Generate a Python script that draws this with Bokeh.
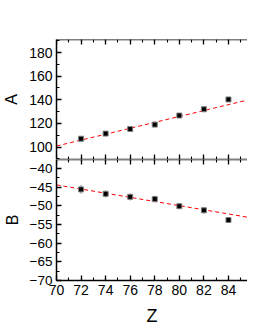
from bokeh.plotting import figure
from bokeh.models import LinearAxis, SingleIntervalTicker, Range1d, CustomLabelingPolicy
from bokeh.layouts import column
from bokeh.embed import file_html
from bokeh.resources import INLINE

# data
z = [72, 74, 76, 78, 80, 82, 84]
A_vals = [107.1, 111.4, 115.3, 119.0, 126.7, 132.0, 140.3]
A_err = [2.0, 1.8, 1.8, 1.6, 1.6, 1.6, 1.6]
B_vals = [-45.6, -46.8, -47.6, -48.2, -50.1, -51.2, -53.8]
B_err = [1.2, 1.0, 1.0, 0.9, 0.8, 0.9, 0.6]
fit_z = [70, 86]
fit_A = [100.9, 140.9]
fit_B = [-44.4, -53.3]

A_range = (89.5, 191)
B_range = (-70, -37.6)

FONT = "Liberation Sans"
xr = Range1d(70, 85.55)

NO_LABELS = """
for (const i of indices) {
    indices.unset(i)
}
return indices
"""


def style_axis(ax, major_step, labels=True, size="12px"):
    ax.ticker = SingleIntervalTicker(interval=major_step, num_minor_ticks=2)
    ax.axis_line_width = 1.5
    ax.axis_line_color = "black"
    ax.major_tick_in = 5
    ax.major_tick_out = 0
    ax.minor_tick_in = 3
    ax.minor_tick_out = 0
    ax.major_tick_line_width = 1.3
    ax.minor_tick_line_width = 1.1
    ax.major_tick_line_color = "black"
    ax.minor_tick_line_color = "black"
    if labels:
        ax.major_label_text_font = FONT
        ax.major_label_text_font_size = size
        ax.major_label_text_color = "black"
        ax.major_label_standoff = 4
    else:
        ax.major_label_policy = CustomLabelingPolicy(code=NO_LABELS)
        ax.major_label_text_font_size = "1px"
        ax.major_label_standoff = 0


def make_panel(vals, err, fit, yr, ystep, ylabel, fheight, top_b, bottom_b,
               bottom_axis_labels, ysize):
    p = figure(width=247, frame_height=fheight, x_range=xr, y_range=Range1d(*yr),
               output_backend="svg", toolbar_location=None,
               x_axis_location=None, y_axis_location=None,
               min_border_left=52, min_border_right=0,
               min_border_top=top_b, min_border_bottom=bottom_b)
    p.grid.visible = False
    p.outline_line_color = None
    p.background_fill_color = "white"

    left = LinearAxis(axis_label=ylabel)
    style_axis(left, ystep, True, ysize)
    left.axis_label_text_font = FONT
    left.axis_label_text_font_size = "16px"
    left.axis_label_text_font_style = "normal"
    left.axis_label_text_color = "black"
    left.axis_label_standoff = 6
    p.add_layout(left, "left")

    top = LinearAxis(fixed_location=yr[1])
    style_axis(top, 2, False)
    p.add_layout(top, "above")

    if bottom_axis_labels:
        bottom = LinearAxis()
        style_axis(bottom, 2, True, "14px")
        bottom.axis_label = "Z"
        bottom.axis_label_text_font = FONT
        bottom.axis_label_text_font_size = "18px"
        bottom.axis_label_text_font_style = "normal"
        bottom.axis_label_text_color = "black"
        bottom.axis_label_standoff = 8
        bottom.major_label_standoff = 4
    else:
        bottom = LinearAxis(fixed_location=yr[0])
        style_axis(bottom, 2, False)
    p.add_layout(bottom, "below")

    lo = [v - e for v, e in zip(vals, err)]
    hi = [v + e for v, e in zip(vals, err)]
    p.segment(x0=z, x1=z, y0=lo, y1=hi, line_color="#8a8a8a", line_width=1)
    p.line(fit_z, fit, line_color="red", line_dash="4 3", line_width=1)
    p.scatter(z, vals, marker="square", size=5, fill_color="black",
              line_color="#808080", line_width=1)
    return p


p1 = make_panel(A_vals, A_err, fit_A, A_range, 20, "A", 120, 39, 0, False, "14px")
p2 = make_panel(B_vals, B_err, fit_B, B_range, 5, "B", 121, 0, 48, True, "13.5px")

layout = column(p1, p2, spacing=0)
open("out.html", "w").write(file_html(layout, INLINE))
